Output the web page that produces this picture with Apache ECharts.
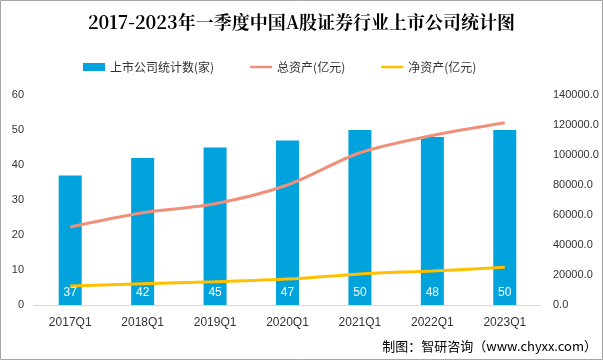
<!DOCTYPE html>
<html><head><meta charset="utf-8">
<script src="https://cdn.jsdelivr.net/npm/echarts@6/dist/echarts.min.js"></script>
<style>html,body{margin:0;padding:0;background:#fff}#c{width:603px;height:360px}</style>
</head><body><div id="c"></div>
<script>
const categories = ['2017Q1','2018Q1','2019Q1','2020Q1','2021Q1','2022Q1','2023Q1'];
const companyCount = [37,42,45,47,50,48,50];
const totalAssets = [52000,61500,67500,80000,101500,113000,121500];
const netAssets = [12700,14200,15500,17300,20700,22700,25100];
const leftTicks = [0,10,20,30,40,50,60];
const rightTicks = [0,20000,40000,60000,80000,100000,120000,140000];

const chart = echarts.init(document.getElementById('c'));
const lblFont = {color:'#333', fontSize:11, fontFamily:'"Liberation Sans", Arial, sans-serif'};
chart.setOption({
  animation:false,
  title:{text:'2017-2023年一季度中国A股证券行业上市公司统计图', left:'center', top:8,
    textStyle:{fontSize:18, fontWeight:'bold', color:'#000', fontFamily:'"Noto Serif CJK SC","Noto Sans CJK SC", serif'}},
  legend:{top:56, left:78, itemGap:36, itemWidth:22, itemHeight:8,
    textStyle:{fontSize:12, color:'#333', fontFamily:'"Noto Sans CJK SC", sans-serif'},
    data:[{name:'上市公司统计数(家)', icon:'rect'},
          {name:'总资产(亿元)', icon:'path://M0,3L22,3L22,5.5L0,5.5Z'},
          {name:'净资产(亿元)', icon:'path://M0,3L22,3L22,5.5L0,5.5Z'}]},
  grid:{left:34, right:62, top:95, bottom:55},
  xAxis:{type:'category', data:categories, axisTick:{show:false},
    axisLine:{lineStyle:{color:'#d9d9d9'}}, axisLabel:{margin:12, fontSize:12, color:'#333', fontFamily:'"Liberation Sans", Arial, sans-serif'}},
  yAxis:[
    {type:'value', min:leftTicks[0], max:leftTicks[leftTicks.length-1], interval:10, splitLine:{show:false},
     axisLine:{show:false}, axisTick:{show:false}, axisLabel:Object.assign({margin:10}, lblFont)},
    {type:'value', min:rightTicks[0], max:rightTicks[rightTicks.length-1], interval:20000, splitLine:{show:false},
     axisLine:{show:false}, axisTick:{show:false},
     axisLabel:Object.assign({margin:12, formatter:v=>v.toFixed(1)}, lblFont)}
  ],
  series:[
    {name:'上市公司统计数(家)', type:'bar', data:companyCount, barWidth:23, itemStyle:{color:'#00A3DB'},
     label:{show:true, position:'insideBottom', distance:6, color:'#fff', fontSize:12, fontFamily:'"Liberation Sans", Arial, sans-serif'}},
    {name:'总资产(亿元)', type:'line', yAxisIndex:1, data:totalAssets, smooth:0.3, symbol:'none',
     lineStyle:{width:3, color:'#F0907A'}, itemStyle:{color:'#F0907A'}},
    {name:'净资产(亿元)', type:'line', yAxisIndex:1, data:netAssets, smooth:0.3, symbol:'none',
     lineStyle:{width:3, color:'#FFC000'}, itemStyle:{color:'#FFC000'}}
  ],
  graphic:[
    {type:'rect', shape:{x:0.5,y:0.5,width:602,height:359}, style:{fill:'none', stroke:'#a6a6a6', lineWidth:1}},
    {type:'text', right:6, top:340, style:{text:'制图：智研咨询（www.chyxx.com）', fontSize:13, fill:'#000', fontFamily:'"Noto Sans CJK SC", sans-serif'}}
  ]
});
</script></body></html>
